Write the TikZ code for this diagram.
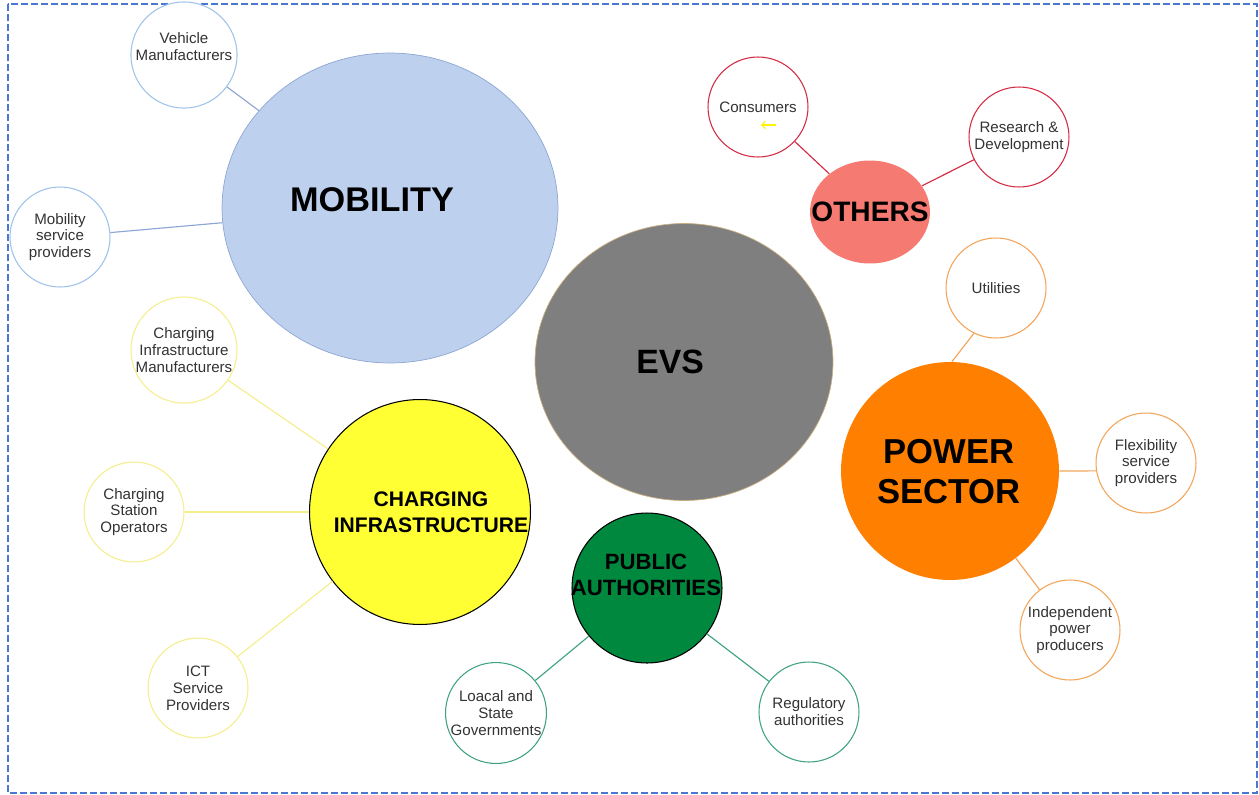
\documentclass[tikz,border=0pt]{standalone}
\usepackage{fontspec}
\setmainfont{Liberation Sans}
\usetikzlibrary{shapes.geometric}

\definecolor{framecol}{HTML}{4A78D0}
\definecolor{mobfill}{HTML}{BDD0EE}
\definecolor{mobline}{HTML}{8EA6D4}
\definecolor{mobring}{HTML}{9EC2EA}
\definecolor{evsfill}{HTML}{7F7F7F}
\definecolor{evsline}{HTML}{C9AC7E}
\definecolor{othfill}{HTML}{F47A72}
\definecolor{othring}{HTML}{D42A44}
\definecolor{powfill}{HTML}{FF8000}
\definecolor{powring}{HTML}{F2A55A}
\definecolor{chgfill}{HTML}{FFFF33}
\definecolor{chgring}{HTML}{F4EE8C}
\definecolor{pubfill}{HTML}{00883E}
\definecolor{pubring}{HTML}{3FA283}
\definecolor{smalltext}{HTML}{333333}

\begin{document}
\begin{tikzpicture}[
x=0.02cm, y=-0.02cm,
hub/.style={ellipse, inner sep=0pt},
hubtext/.style n args={2}{font=\bfseries\fontsize{#1}{#2}\selectfont, align=center, text=black, inner sep=0pt},
actor/.style={circle, draw=#1, fill=white, line width=0.6pt, minimum size=2cm, inner sep=0pt,
  align=center, text=smalltext, font=\fontsize{8.6}{9.6}\selectfont},
link/.style={draw=#1, line width=0.65pt},
frame/.style={draw=framecol, line width=0.85pt, dash pattern=on 4pt off 1.7pt}
]
\useasboundingbox (0,0) rectangle (1259,795);
\draw[frame] (8,4) rectangle (1257,793);

%Hubs
\node[hub, fill=mobfill, draw=mobline, minimum width=6.72cm, minimum height=6.2cm] (Mob) at (390,208) {};
\node[hub, fill=evsfill, draw=evsline, minimum width=5.96cm, minimum height=5.54cm] (EVs) at (684,362) {};
\node[hub, fill=othfill, minimum width=2.4cm, minimum height=2.06cm] (Oth) at (870,212) {};
\node[hub, fill=powfill, minimum size=4.36cm] (Pow) at (950,471) {};
\node[hub, fill=chgfill, draw=black, line width=0.6pt, minimum width=4.42cm, minimum height=4.5cm] (Chg) at (420,512) {};
\node[hub, fill=pubfill, draw=black, line width=0.6pt, minimum size=3cm] (Pub) at (647,588) {};

\node[hubtext={19.5}{22}] (MobT) at (372,200) {MOBILITY};
\node[hubtext={19.2}{22}] (EVsT) at (670,362) {EVS};
\node[hubtext={16}{18}] (OthT) at (870,212) {OTHERS};
\node[hubtext={19.7}{22.7}] (PowT) at (949,472) {POWER\\SECTOR};
\node[hubtext={12}{14.7}] (ChgT) at (431,512) {CHARGING\\INFRASTRUCTURE};
\node[hubtext={12.6}{14.7}] (PubT) at (646,575) {PUBLIC\\AUTHORITIES};

%Actors
\node[actor=mobring] (VehM) at (184,55) {Vehicle\\Manufacturers\\\mbox{}};
\node[actor=mobring] (MobS) at (60,237) {Mobility\\service\\providers};
\node[actor=othring] (Cons) at (758,107) {Consumers};
\node[actor=othring] (RnD) at (1019,137) {Research \&\\Development};
\node[actor=powring] (Util) at (996,288) {Utilities};
\node[actor=powring] (Flex) at (1146,463) {Flexibility\\service\\providers};
\node[actor=powring] (Ipp) at (1070,630) {Independent\\power\\producers};
\node[actor=chgring] (ChgM) at (184,350) {Charging\\Infrastructure\\Manufacturers};
\node[actor=chgring] (ChgO) at (134,512) {Charging\\Station\\Operators};
\node[actor=chgring] (Ict) at (198,688) {ICT\\Service\\Providers};
\node[actor=pubring] (Gov) at (496,713) {Loacal and\\State\\Governments};
\node[actor=pubring] (Reg) at (809,712) {Regulatory\\authorities};

%Lines
\draw[link=mobline] (VehM) -- (Mob);
\draw[link=mobline] (MobS) -- (Mob);
\draw[link=othring] (Cons) -- (Oth);
\draw[link=othring] (RnD) -- (Oth);
\draw[link=powring] (Util.244) -- (Pow.89);
\draw[link=powring] (Flex.189) -- (Pow.east);
\draw[link=powring] (Ipp) -- (Pow);
\draw[link=chgring] (ChgM) -- (Chg);
\draw[link=chgring] (ChgO) -- (Chg);
\draw[link=chgring] (Ict) -- (Chg);
\draw[link=pubring] (Gov) -- (Pub);
\draw[link=pubring] (Reg) -- (Pub);

%stray mark
\coordinate (ArrA) at (776,125);
\coordinate (ArrB) at (761,125);
\draw[->, yellow, line width=0.8pt] (ArrA) -- (ArrB);
\end{tikzpicture}
\end{document}
